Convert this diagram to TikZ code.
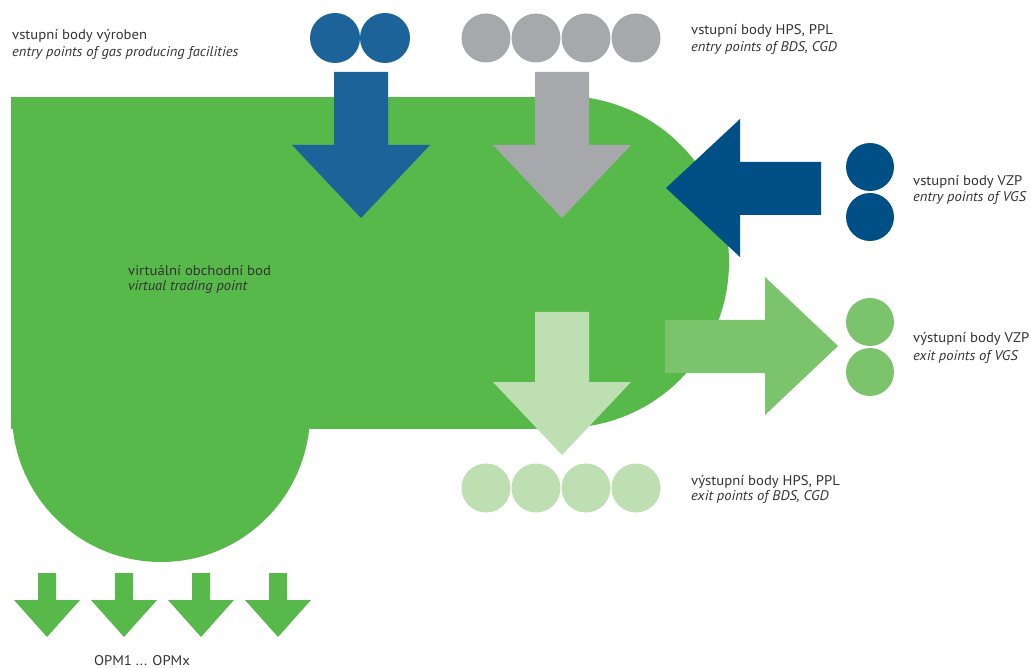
\documentclass[tikz,border=0pt]{standalone}
\usepackage{fontspec}
\setmainfont{PT Sans}[UprightFeatures={FakeStretch=1.05},ItalicFeatures={FakeStretch=1.04}]
\definecolor{gmain}{HTML}{57B94A}
\definecolor{bluein}{HTML}{1B6399}
\definecolor{grayin}{HTML}{A7A8AB}
\definecolor{navyin}{HTML}{004F86}
\definecolor{greenout}{HTML}{7BC46B}
\definecolor{paleout}{HTML}{BEDFB2}
\definecolor{txt}{HTML}{333333}
\newcommand\dnarr[7]{%
  \fill[#1] (#2-#6,#3) -- (#2+#6,#3) -- (#2+#6,#4) -- (#2+#7,#4) -- (#2,#5) -- (#2-#7,#4) -- (#2-#6,#4) -- cycle;}
\begin{document}
\begin{tikzpicture}[x=1pt,y=-1pt,
  dot/.style={circle,inner sep=0pt,minimum size=#1,fill},
  lbl/.style={anchor=base west,inner sep=0pt,text=txt,font=\fontsize{14}{16}\selectfont},
  lbli/.style={lbl,font=\fontsize{14}{16}\selectfont\itshape}]
\useasboundingbox (0,0) rectangle (1031,668);
% main green area
\fill[gmain] (11,97) rectangle (563,429);
\fill[gmain] (563,262) circle[radius=166];
\fill[gmain] (161,413) circle[radius=149];
% top-left label
\node[lbl]  (prod1) at (12,40) {vstupní body výroben};
\node[lbli] (prod2) at (12,57) {entry points of gas producing facilities};
% production entry points
\node[dot=50,bluein] (b1) at (335,38) {};
\node[dot=50,bluein] (b2) at (385,38) {};
\dnarr{bluein}{361}{72}{145}{218}{27}{69}
% HPS/PPL entry
\foreach \i/\x in {1/486,2/536,3/586,4/636}
  \node[dot=49,grayin] (g\i) at (\x,38) {};
\dnarr{grayin}{562}{72}{145}{218}{27}{69}
\node[lbl]  (hps1) at (691,35) {vstupní body HPS, PPL};
\node[lbli] (hps2) at (691,52) {entry points of BDS, CGD};
% VZP entry
\fill[navyin] (666,188) -- (740,119) -- (740,162) -- (821,162) -- (821,215) -- (740,215) -- (740,257) -- cycle;
\node[dot=48,navyin] (n1) at (870,167) {};
\node[dot=48,navyin] (n2) at (870,217) {};
\node[lbl]  (vzp1) at (913,186) {vstupní body VZP};
\node[lbli] (vzp2) at (913,202) {entry points of VGS};
% VZP exit
\fill[greenout] (665,320) -- (765,320) -- (765,277) -- (838,346) -- (765,415) -- (765,373) -- (665,373) -- cycle;
\node[dot=48,greenout] (o1) at (870,322) {};
\node[dot=48,greenout] (o2) at (870,372) {};
\node[lbl]  (vzo1) at (913,343) {výstupní body VZP};
\node[lbli] (vzo2) at (913,360) {exit points of VGS};
% HPS/PPL exit
\dnarr{paleout}{562}{312}{382}{455}{27}{69}
\foreach \i/\x in {1/486,2/536,3/586,4/636}
  \node[dot=49,paleout] (p\i) at (\x,488) {};
\node[lbl]  (hpo1) at (691,485) {výstupní body HPS, PPL};
\node[lbli] (hpo2) at (691,500) {exit points of BDS, CGD};
% virtual trading point
\node[lbl]  (vtp1) at (128,276) {virtuální obchodní bod};
\node[lbli] (vtp2) at (128,291) {virtual trading point};
% OPM arrows
\foreach \x in {47,124,201,278}
  {\dnarr{gmain}{\x}{573}{600}{637}{9}{33}}
\node[anchor=base,inner sep=0pt,text=txt,font=\fontsize{14}{16}\selectfont] (opm) at (142,665) {OPM1 ... OPMx};
\end{tikzpicture}
\end{document}
